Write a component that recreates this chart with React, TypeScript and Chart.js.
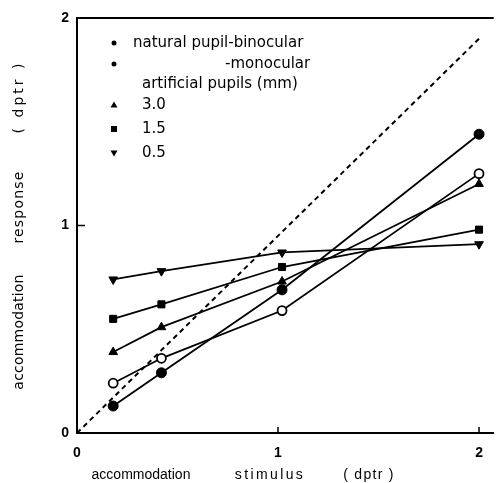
import React, { useEffect, useRef } from "react";
import { Chart, registerables } from "chart.js";

Chart.register(...registerables);

// accommodation stimulus (dptr)
const stimulus = [0.18, 0.42, 1.02, 2.0];
// accommodation response (dptr)
const binocular = [0.13, 0.29, 0.69, 1.44];
const monocular = [0.24, 0.36, 0.59, 1.25];
const pupil30 = [0.39, 0.51, 0.73, 1.2];
const pupil15 = [0.55, 0.62, 0.8, 0.98];
const pupil05 = [0.74, 0.78, 0.87, 0.91];
// dashed reference line (stimulus, response)
const refX = [0, 2.0];
const refY = [0, 1.9];
const tickValues = [0, 1, 2];

const legendRows = [
  { marker: "dot", text: "natural pupil-binocular", indent: 0 },
  { marker: "dot", text: "-monocular", indent: 92 },
  { marker: "none", text: "artificial pupils (mm)", indent: 9 },
  { marker: "tri", text: "3.0", indent: 9 },
  { marker: "sq", text: "1.5", indent: 9 },
  { marker: "tridown", text: "0.5", indent: 9 },
];

const toPts = (xs: number[], ys: number[]) => xs.map((x, i) => ({ x, y: ys[i] }));

const decor = {
  id: "decor",
  afterDraw(chart: any) {
    const { ctx, chartArea } = chart;
    const { left, top, right, bottom } = chartArea;
    const xs = chart.scales.x;
    const ys = chart.scales.y;
    ctx.save();
    ctx.strokeStyle = "#000";
    ctx.fillStyle = "#000";
    // top frame line
    ctx.lineWidth = 2;
    ctx.beginPath();
    ctx.moveTo(left - 1, top);
    ctx.lineTo(right, top);
    ctx.stroke();
    // inward ticks
    ctx.lineWidth = 1.5;
    const y1 = ys.getPixelForValue(1);
    ctx.beginPath();
    ctx.moveTo(left, y1);
    ctx.lineTo(left + 8, y1);
    [1, 2].forEach((v) => {
      const px = xs.getPixelForValue(v);
      ctx.moveTo(px, bottom);
      ctx.lineTo(px, bottom - 6);
    });
    ctx.stroke();

    // legend
    const mx = left + 37;
    const tx = left + 56;
    const rowsY = [43, 64, 84, 105, 129, 153];
    ctx.font = "15px 'DejaVu Sans'";
    ctx.textBaseline = "middle";
    ctx.textAlign = "left";
    legendRows.forEach((r, i) => {
      const y = rowsY[i];
      ctx.beginPath();
      if (r.marker === "dot") {
        ctx.arc(mx, y, 2.5, 0, Math.PI * 2);
        ctx.fill();
      } else if (r.marker === "tri") {
        ctx.moveTo(mx, y - 3.5);
        ctx.lineTo(mx + 3.5, y + 2.5);
        ctx.lineTo(mx - 3.5, y + 2.5);
        ctx.closePath();
        ctx.fill();
      } else if (r.marker === "tridown") {
        ctx.moveTo(mx, y + 3.5);
        ctx.lineTo(mx + 3.5, y - 2.5);
        ctx.lineTo(mx - 3.5, y - 2.5);
        ctx.closePath();
        ctx.fill();
      } else if (r.marker === "sq") {
        ctx.fillRect(mx - 3, y - 3, 6, 6);
      }
      ctx.fillText(r.text, tx + r.indent, y);
    });

    // x title
    ctx.font = "14px 'Liberation Sans'";
    ctx.textAlign = "center";
    const xt: [string, number, string][] = [
      ["accommodation", 141, "0px"],
      ["stimulus", 270, "2.4px"],
      ["( dptr )", 369, "1.3px"],
    ];
    xt.forEach(([t, cx, ls]) => {
      ctx.letterSpacing = ls;
      ctx.fillText(t, cx, 475);
    });

    // y title
    ctx.font = "14px 'DejaVu Sans'";
    const yt: [string, number, string][] = [
      ["accommodation", 332, "0.2px"],
      ["response", 207, "1.2px"],
      ["( dptr )", 97, "3px"],
    ];
    yt.forEach(([t, cy, ls]) => {
      ctx.save();
      ctx.letterSpacing = ls;
      ctx.translate(19, cy);
      ctx.rotate(-Math.PI / 2);
      ctx.fillText(t, 0, 0);
      ctx.restore();
    });
    ctx.letterSpacing = "0px";
    ctx.restore();
  },
};

export default function App() {
  const ref = useRef<HTMLCanvasElement>(null);
  useEffect(() => {
    if (!ref.current) return;
    const line = (data: number[], style: string, extra: any = {}) => ({
      data: toPts(stimulus, data),
      borderColor: "#000",
      borderWidth: 1.8,
      pointStyle: style,
      pointRadius: 5,
      pointBackgroundColor: "#000",
      pointBorderColor: "#000",
      pointBorderWidth: 1,
      tension: 0,
      ...extra,
    });
    const chart = new Chart(ref.current, {
      type: "line",
      data: {
        datasets: [
          {
            data: toPts(refX, refY),
            borderColor: "#000",
            borderWidth: 2,
            borderDash: [5, 4],
            pointRadius: 0,
          } as any,
          line(binocular, "circle"),
          line(monocular, "circle", {
            pointBackgroundColor: "#fff",
            pointBorderWidth: 1.8,
            pointRadius: 4.5,
          }),
          line(pupil30, "triangle"),
          line(pupil15, "rect", { pointRadius: 5 }),
          line(pupil05, "triangle", { pointRotation: 180 }),
        ],
      },
      options: {
        responsive: false,
        animation: false,
        layout: { padding: { top: 18, right: 0, left: 0, bottom: 0 } },
        plugins: { legend: { display: false }, tooltip: { enabled: false } },
        scales: {
          x: {
            type: "linear",
            min: 0,
            max: 2.073,
            afterBuildTicks: (s: any) => {
              s.ticks = tickValues.map((v) => ({ value: v }));
            },
            afterFit: (s: any) => {
              s.height = 50;
            },
            grid: { display: false, drawTicks: false },
            border: { display: true, color: "#000", width: 2 },
            ticks: {
              padding: 12,
              color: "#000",
              font: { family: "'Liberation Sans'", size: 14, weight: "bold" },
              maxRotation: 0,
            },
          },
          y: {
            type: "linear",
            min: 0,
            max: 2,
            afterBuildTicks: (s: any) => {
              s.ticks = tickValues.map((v) => ({ value: v }));
            },
            afterFit: (s: any) => {
              s.width = 77;
            },
            grid: { display: false, drawTicks: false },
            border: { display: true, color: "#000", width: 2 },
            ticks: {
              padding: 8,
              color: "#000",
              font: { family: "'Liberation Sans'", size: 14, weight: "bold" },
            },
          },
        },
      },
      plugins: [decor],
    });
    return () => chart.destroy();
  }, []);
  return (
    <div style={{ position: "absolute", left: 0, top: 0, width: 500, height: 483, background: "#fff" }}>
      <canvas ref={ref} width={500} height={483} style={{ width: 500, height: 483 }} />
    </div>
  );
}
